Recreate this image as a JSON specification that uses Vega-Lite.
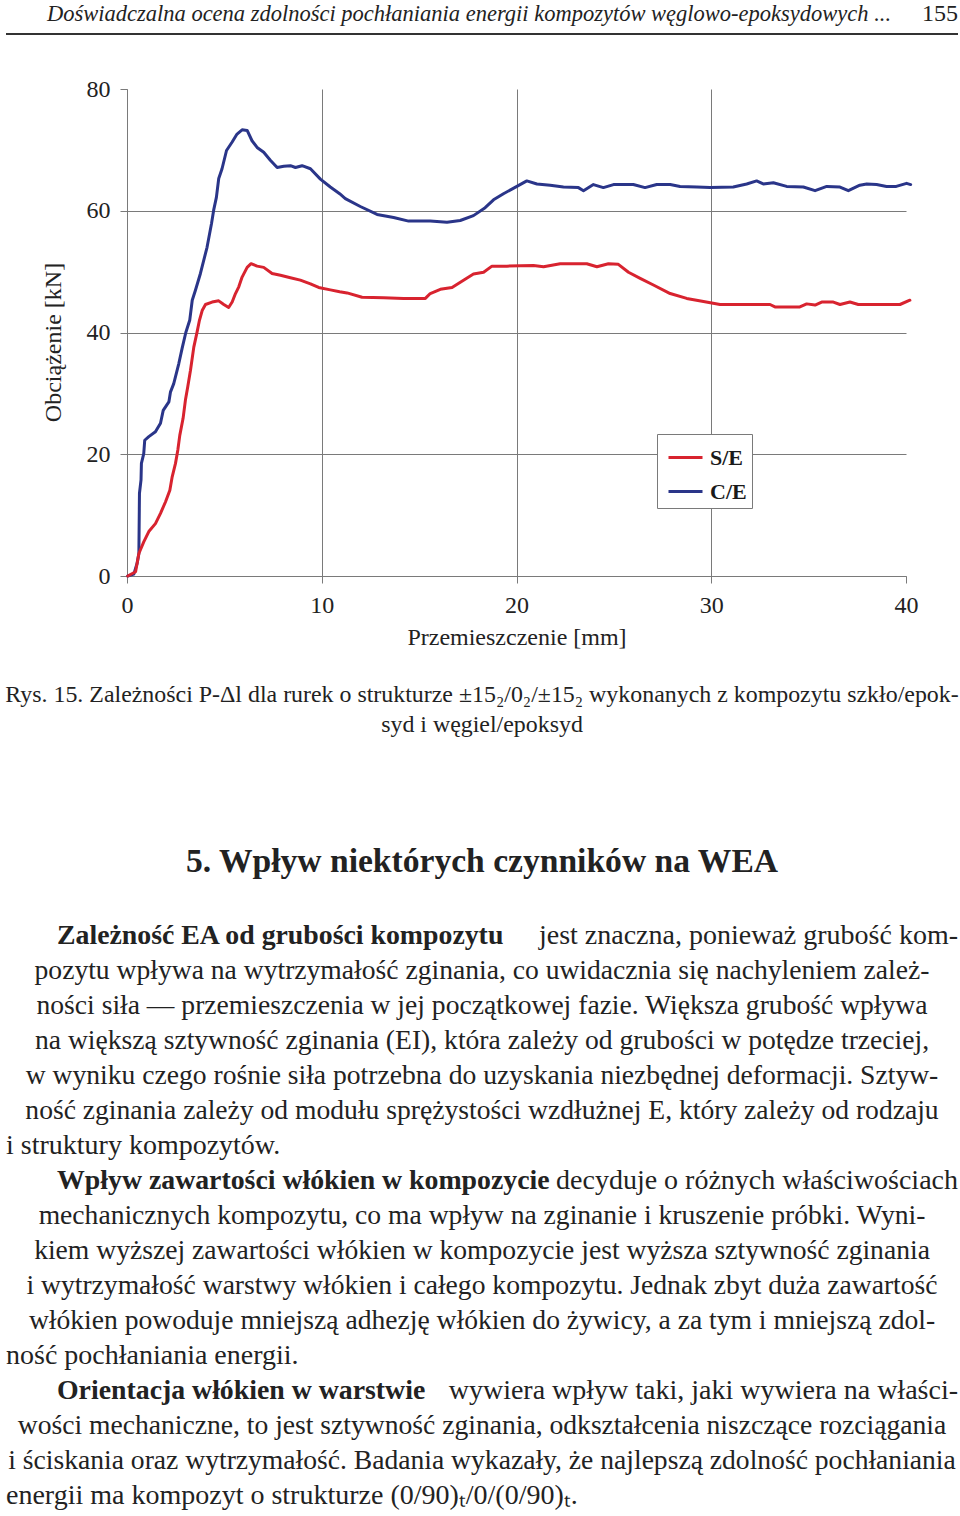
{
  "$schema": "https://vega.github.io/schema/vega-lite/v6.json",
  "width": 779,
  "height": 487,
  "autosize": {"type": "none"},
  "padding": {"left": 127, "top": 89, "right": 54, "bottom": 940},
  "background": "white",
  "config": {"view": {"stroke": null}, "font": "Liberation Serif"},
  "datasets": {
    "curves": [
      {"s":"C/E","x":0.04,"y":0},{"s":"C/E","x":0.35,"y":0.3},{"s":"C/E","x":0.52,"y":2.1},{"s":"C/E","x":0.61,"y":3.7},{"s":"C/E","x":0.64,"y":13.6},{"s":"C/E","x":0.72,"y":15.8},{"s":"C/E","x":0.74,"y":18.5},{"s":"C/E","x":0.86,"y":20.1},{"s":"C/E","x":0.91,"y":22.3},{"s":"C/E","x":1.12,"y":22.9},{"s":"C/E","x":1.46,"y":23.7},{"s":"C/E","x":1.72,"y":25.1},{"s":"C/E","x":1.86,"y":27.2},{"s":"C/E","x":2.15,"y":28.6},{"s":"C/E","x":2.23,"y":30.2},{"s":"C/E","x":2.4,"y":31.6},{"s":"C/E","x":2.66,"y":34.9},{"s":"C/E","x":2.83,"y":37.4},{"s":"C/E","x":3.02,"y":40.0},{"s":"C/E","x":3.22,"y":42.0},{"s":"C/E","x":3.35,"y":45.3},{"s":"C/E","x":3.51,"y":46.9},{"s":"C/E","x":3.77,"y":49.7},{"s":"C/E","x":4.11,"y":54.0},{"s":"C/E","x":4.34,"y":57.9},{"s":"C/E","x":4.45,"y":60.1},{"s":"C/E","x":4.59,"y":62.2},{"s":"C/E","x":4.71,"y":65.3},{"s":"C/E","x":4.88,"y":66.9},{"s":"C/E","x":5.11,"y":69.9},{"s":"C/E","x":5.4,"y":71.3},{"s":"C/E","x":5.65,"y":72.6},{"s":"C/E","x":5.91,"y":73.3},{"s":"C/E","x":6.17,"y":73.2},{"s":"C/E","x":6.42,"y":71.5},{"s":"C/E","x":6.68,"y":70.4},{"s":"C/E","x":7.02,"y":69.6},{"s":"C/E","x":7.36,"y":68.3},{"s":"C/E","x":7.71,"y":67.1},{"s":"C/E","x":8.05,"y":67.3},{"s":"C/E","x":8.39,"y":67.4},{"s":"C/E","x":8.65,"y":67.1},{"s":"C/E","x":8.99,"y":67.4},{"s":"C/E","x":9.42,"y":66.9},{"s":"C/E","x":9.93,"y":65.2},{"s":"C/E","x":10.44,"y":63.9},{"s":"C/E","x":10.92,"y":62.8},{"s":"C/E","x":11.21,"y":62.0},{"s":"C/E","x":11.98,"y":60.7},{"s":"C/E","x":12.84,"y":59.4},{"s":"C/E","x":13.69,"y":58.9},{"s":"C/E","x":14.46,"y":58.3},{"s":"C/E","x":15.57,"y":58.3},{"s":"C/E","x":16.43,"y":58.1},{"s":"C/E","x":17.11,"y":58.4},{"s":"C/E","x":17.79,"y":59.2},{"s":"C/E","x":18.39,"y":60.5},{"s":"C/E","x":18.82,"y":61.8},{"s":"C/E","x":19.33,"y":62.8},{"s":"C/E","x":20.02,"y":64.0},{"s":"C/E","x":20.53,"y":64.9},{"s":"C/E","x":21.05,"y":64.4},{"s":"C/E","x":21.73,"y":64.2},{"s":"C/E","x":22.41,"y":63.9},{"s":"C/E","x":23.18,"y":63.8},{"s":"C/E","x":23.44,"y":63.3},{"s":"C/E","x":23.95,"y":64.3},{"s":"C/E","x":24.46,"y":63.8},{"s":"C/E","x":24.98,"y":64.3},{"s":"C/E","x":25.32,"y":64.3},{"s":"C/E","x":26.0,"y":64.3},{"s":"C/E","x":26.6,"y":63.8},{"s":"C/E","x":27.2,"y":64.3},{"s":"C/E","x":27.89,"y":64.3},{"s":"C/E","x":28.4,"y":64.0},{"s":"C/E","x":29.26,"y":63.9},{"s":"C/E","x":29.94,"y":63.8},{"s":"C/E","x":31.13,"y":63.9},{"s":"C/E","x":31.82,"y":64.4},{"s":"C/E","x":32.33,"y":64.9},{"s":"C/E","x":32.67,"y":64.4},{"s":"C/E","x":33.19,"y":64.6},{"s":"C/E","x":33.87,"y":64.0},{"s":"C/E","x":34.73,"y":63.9},{"s":"C/E","x":35.33,"y":63.3},{"s":"C/E","x":35.93,"y":64.0},{"s":"C/E","x":36.61,"y":63.9},{"s":"C/E","x":37.04,"y":63.3},{"s":"C/E","x":37.63,"y":64.2},{"s":"C/E","x":37.98,"y":64.4},{"s":"C/E","x":38.49,"y":64.3},{"s":"C/E","x":39.0,"y":64.0},{"s":"C/E","x":39.5,"y":64.0},{"s":"C/E","x":40.03,"y":64.5},{"s":"C/E","x":40.24,"y":64.3},
      {"s":"S/E","x":0.04,"y":0},{"s":"S/E","x":0.44,"y":0.7},{"s":"S/E","x":0.61,"y":3.7},{"s":"S/E","x":0.86,"y":5.6},{"s":"S/E","x":1.12,"y":7.3},{"s":"S/E","x":1.46,"y":8.6},{"s":"S/E","x":1.72,"y":10.3},{"s":"S/E","x":1.98,"y":12.2},{"s":"S/E","x":2.2,"y":14.1},{"s":"S/E","x":2.32,"y":16.3},{"s":"S/E","x":2.49,"y":18.5},{"s":"S/E","x":2.61,"y":20.7},{"s":"S/E","x":2.71,"y":23.1},{"s":"S/E","x":2.88,"y":25.9},{"s":"S/E","x":3.0,"y":28.9},{"s":"S/E","x":3.12,"y":31.1},{"s":"S/E","x":3.26,"y":33.8},{"s":"S/E","x":3.43,"y":37.6},{"s":"S/E","x":3.6,"y":40.1},{"s":"S/E","x":3.72,"y":42.0},{"s":"S/E","x":3.86,"y":43.6},{"s":"S/E","x":4.03,"y":44.6},{"s":"S/E","x":4.37,"y":45.0},{"s":"S/E","x":4.71,"y":45.2},{"s":"S/E","x":4.97,"y":44.6},{"s":"S/E","x":5.22,"y":44.1},{"s":"S/E","x":5.4,"y":45.0},{"s":"S/E","x":5.57,"y":46.4},{"s":"S/E","x":5.74,"y":47.5},{"s":"S/E","x":5.91,"y":49.1},{"s":"S/E","x":6.17,"y":50.7},{"s":"S/E","x":6.37,"y":51.3},{"s":"S/E","x":6.68,"y":50.9},{"s":"S/E","x":7.02,"y":50.7},{"s":"S/E","x":7.45,"y":49.7},{"s":"S/E","x":7.88,"y":49.4},{"s":"S/E","x":8.39,"y":49.0},{"s":"S/E","x":8.9,"y":48.6},{"s":"S/E","x":9.42,"y":48.0},{"s":"S/E","x":9.84,"y":47.4},{"s":"S/E","x":10.44,"y":47.0},{"s":"S/E","x":10.92,"y":46.7},{"s":"S/E","x":11.3,"y":46.5},{"s":"S/E","x":12.07,"y":45.8},{"s":"S/E","x":13.18,"y":45.7},{"s":"S/E","x":14.2,"y":45.6},{"s":"S/E","x":15.32,"y":45.6},{"s":"S/E","x":15.57,"y":46.4},{"s":"S/E","x":16.09,"y":47.1},{"s":"S/E","x":16.69,"y":47.4},{"s":"S/E","x":17.28,"y":48.6},{"s":"S/E","x":17.79,"y":49.6},{"s":"S/E","x":18.31,"y":49.9},{"s":"S/E","x":18.74,"y":50.9},{"s":"S/E","x":19.51,"y":50.9},{"s":"S/E","x":20.87,"y":51.0},{"s":"S/E","x":21.39,"y":50.8},{"s":"S/E","x":22.24,"y":51.3},{"s":"S/E","x":23.61,"y":51.3},{"s":"S/E","x":24.13,"y":50.8},{"s":"S/E","x":24.72,"y":51.3},{"s":"S/E","x":25.23,"y":51.2},{"s":"S/E","x":25.75,"y":49.9},{"s":"S/E","x":26.35,"y":48.9},{"s":"S/E","x":27.03,"y":47.8},{"s":"S/E","x":27.89,"y":46.4},{"s":"S/E","x":28.74,"y":45.6},{"s":"S/E","x":29.6,"y":45.1},{"s":"S/E","x":30.45,"y":44.6},{"s":"S/E","x":33.02,"y":44.6},{"s":"S/E","x":33.27,"y":44.2},{"s":"S/E","x":34.55,"y":44.2},{"s":"S/E","x":34.9,"y":44.7},{"s":"S/E","x":35.33,"y":44.5},{"s":"S/E","x":35.67,"y":45.0},{"s":"S/E","x":36.27,"y":45.0},{"s":"S/E","x":36.61,"y":44.6},{"s":"S/E","x":37.12,"y":45.0},{"s":"S/E","x":37.55,"y":44.6},{"s":"S/E","x":39.69,"y":44.6},{"s":"S/E","x":40.2,"y":45.3}
    ],
    "text": [
      {"line":0,"col":1,"role":"head","text":"Doświadczalna ocena zdolności pochłaniania energii kompozytów węglowo-epoksydowych ..."},
      {"line":0,"col":4,"role":"page","text":"155"},
      {"line":1,"col":0,"col2":4,"role":"rule","text":""},
      {"line":2,"col":3,"role":"cap","text":"Rys. 15. Zależności P-Δl dla rurek o strukturze ±15₂/0₂/±15₂ wykonanych z kompozytu szkło/epok-"},
      {"line":3,"col":3,"role":"cap","text":"syd i węgiel/epoksyd"},
      {"line":4,"col":3,"role":"h","text":"5. Wpływ niektórych czynników na WEA"},
      {"line":5,"col":2,"role":"b","text":"Zależność EA od grubości kompozytu"},
      {"line":5,"col":4,"role":"r","text":"jest znaczna, ponieważ grubość kom-"},
      {"line":6,"col":3,"role":"c","text":"pozytu wpływa na wytrzymałość zginania, co uwidacznia się nachyleniem zależ-"},
      {"line":7,"col":3,"role":"c","text":"ności siła — przemieszczenia w jej początkowej fazie. Większa grubość wpływa"},
      {"line":8,"col":3,"role":"c","text":"na większą sztywność zginania (EI), która zależy od grubości w potędze trzeciej,"},
      {"line":9,"col":3,"role":"c","text":"w wyniku czego rośnie siła potrzebna do uzyskania niezbędnej deformacji. Sztyw-"},
      {"line":10,"col":3,"role":"c","text":"ność zginania zależy od modułu sprężystości wzdłużnej E, który zależy od rodzaju"},
      {"line":11,"col":0,"role":"l","text":"i struktury kompozytów."},
      {"line":12,"col":2,"role":"b","text":"Wpływ zawartości włókien w kompozycie"},
      {"line":12,"col":4,"role":"r","text":"decyduje o różnych właściwościach"},
      {"line":13,"col":3,"role":"c","text":"mechanicznych kompozytu, co ma wpływ na zginanie i kruszenie próbki. Wyni-"},
      {"line":14,"col":3,"role":"c","text":"kiem wyższej zawartości włókien w kompozycie jest wyższa sztywność zginania"},
      {"line":15,"col":3,"role":"c","text":"i wytrzymałość warstwy włókien i całego kompozytu. Jednak zbyt duża zawartość"},
      {"line":16,"col":3,"role":"c","text":"włókien powoduje mniejszą adhezję włókien do żywicy, a za tym i mniejszą zdol-"},
      {"line":17,"col":0,"role":"l","text":"ność pochłaniania energii."},
      {"line":18,"col":2,"role":"b","text":"Orientacja włókien w warstwie"},
      {"line":18,"col":4,"role":"r","text":"wywiera wpływ taki, jaki wywiera na właści-"},
      {"line":19,"col":3,"role":"c","text":"wości mechaniczne, to jest sztywność zginania, odkształcenia niszczące rozciągania"},
      {"line":20,"col":3,"role":"c","text":"i ściskania oraz wytrzymałość. Badania wykazały, że najlepszą zdolność pochłaniania"},
      {"line":21,"col":0,"role":"l","text":"energii ma kompozyt o strukturze (0/90)ₜ/0/(0/90)ₜ."}
    ]
  },
  "layer": [
    {
      "data": {"name": "curves"},
      "mark": {"type": "line", "strokeWidth": 3, "strokeJoin": "round", "strokeCap": "round"},
      "encoding": {
        "x": {
          "field": "x", "type": "quantitative",
          "scale": {"domain": [0, 40], "nice": false, "zero": false},
          "axis": {
            "values": [0, 10, 20, 30, 40], "title": "Przemieszczenie [mm]",
            "grid": true, "gridColor": "#7a7a7a", "gridWidth": 1,
            "gridOpacity": {"condition": {"test": "datum.value === 40", "value": 0}, "value": 1},
            "domainColor": "#7a7a7a", "tickColor": "#7a7a7a", "tickSize": 7,
            "labelFont": "Liberation Serif", "labelFontSize": 24, "labelColor": "#222222", "labelPadding": 10, "labelFlush": false,
            "titleFont": "Liberation Serif", "titleFontSize": 24, "titleFontWeight": "normal", "titleColor": "#222222", "titlePadding": 8
          }
        },
        "y": {
          "field": "y", "type": "quantitative",
          "scale": {"domain": [0, 80], "nice": false},
          "axis": {
            "values": [0, 20, 40, 60, 80], "title": "Obciążenie [kN]",
            "grid": true, "gridColor": "#7a7a7a", "gridWidth": 1,
            "gridOpacity": {"condition": {"test": "datum.value === 80", "value": 0}, "value": 1},
            "domainColor": "#7a7a7a", "tickColor": "#7a7a7a", "tickSize": 7,
            "labelFont": "Liberation Serif", "labelFontSize": 24, "labelColor": "#222222", "labelPadding": 10, "labelFlush": false,
            "titleFont": "Liberation Serif", "titleFontSize": 24, "titleFontWeight": "normal", "titleColor": "#222222",
            "titleX": -74, "titleY": 253, "titleAngle": -90, "titleAlign": "center", "titleBaseline": "middle"
          }
        },
        "color": {
          "field": "s", "type": "nominal",
          "scale": {"domain": ["S/E", "C/E"], "range": ["#d8232f", "#2a3589"]},
          "legend": {
            "orient": "none", "legendX": 530, "legendY": 345, "title": null,
            "symbolType": "stroke", "symbolSize": 1156, "symbolStrokeWidth": 3, "symbolOffset": 5,
            "labelFont": "Liberation Serif", "labelFontWeight": "bold", "labelFontSize": 22, "labelColor": "#1a1a1a",
            "labelOffset": 6, "rowPadding": 4, "padding": 5,
            "fillColor": "white", "strokeColor": "#7a7a7a"
          }
        }
      }
    },
    {
      "data": {"name": "text"},
      "encoding": {
        "x": {"field": "col", "type": "quantitative", "axis": null,
              "scale": {"domain": [0, 1, 2, 3, 4], "range": [-121, -80, -70, 355, 831], "nice": false, "zero": false}},
        "y": {"field": "line", "type": "quantitative", "axis": null,
              "scale": {"domain": [0, 1, 2, 3, 4, 5, 21], "range": [-68, -55, 613, 643, 783, 855, 1415], "nice": false, "zero": false}}
      },
      "layer": [
        {"transform": [{"filter": "datum.role === 'rule'"}],
         "mark": {"type": "rule", "stroke": "#333333", "strokeWidth": 2},
         "encoding": {"x2": {"field": "col2"}}},
        {"transform": [{"filter": "datum.role === 'head'"}],
         "mark": {"type": "text", "align": "left", "baseline": "alphabetic", "font": "Liberation Serif", "fontStyle": "italic", "fontSize": 22.5, "fill": "#222222"},
         "encoding": {"text": {"field": "text"}}},
        {"transform": [{"filter": "datum.role === 'page'"}],
         "mark": {"type": "text", "align": "right", "baseline": "alphabetic", "font": "Liberation Serif", "fontSize": 24, "fill": "#222222"},
         "encoding": {"text": {"field": "text"}}},
        {"transform": [{"filter": "datum.role === 'cap'"}],
         "mark": {"type": "text", "align": "center", "baseline": "alphabetic", "font": "Liberation Serif", "fontSize": 23.9, "fill": "#222222"},
         "encoding": {"text": {"field": "text"}}},
        {"transform": [{"filter": "datum.role === 'h'"}],
         "mark": {"type": "text", "align": "center", "baseline": "alphabetic", "font": "Liberation Serif", "fontWeight": "bold", "fontSize": 33.6, "fill": "#222222"},
         "encoding": {"text": {"field": "text"}}},
        {"transform": [{"filter": "datum.role === 'b'"}],
         "mark": {"type": "text", "align": "left", "baseline": "alphabetic", "font": "Liberation Serif", "fontWeight": "bold", "fontSize": 27.8, "fill": "#222222"},
         "encoding": {"text": {"field": "text"}}},
        {"transform": [{"filter": "datum.role === 'r'"}],
         "mark": {"type": "text", "align": "right", "baseline": "alphabetic", "font": "Liberation Serif", "fontSize": 28, "fill": "#222222"},
         "encoding": {"text": {"field": "text"}}},
        {"transform": [{"filter": "datum.role === 'c'"}],
         "mark": {"type": "text", "align": "center", "baseline": "alphabetic", "font": "Liberation Serif", "fontSize": 27.6, "fill": "#222222"},
         "encoding": {"text": {"field": "text"}}},
        {"transform": [{"filter": "datum.role === 'l'"}],
         "mark": {"type": "text", "align": "left", "baseline": "alphabetic", "font": "Liberation Serif", "fontSize": 28, "fill": "#222222"},
         "encoding": {"text": {"field": "text"}}}
      ]
    }
  ],
  "resolve": {"scale": {"x": "independent", "y": "independent"}}
}
